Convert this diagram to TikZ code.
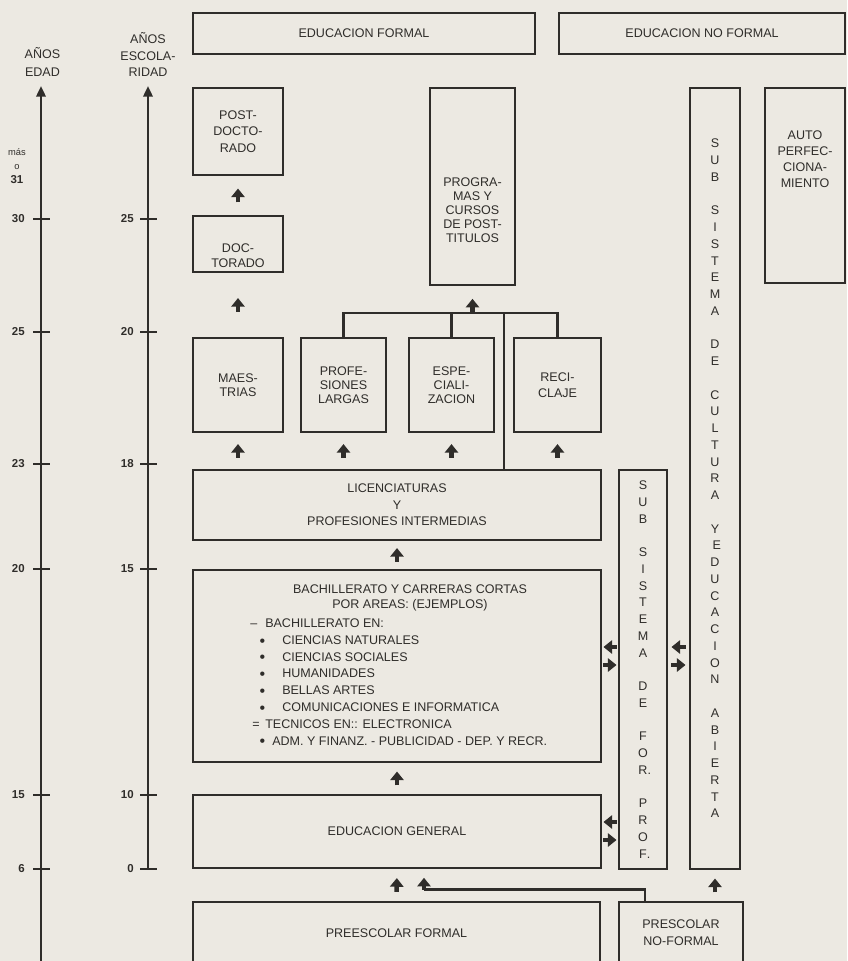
\documentclass[tikz,border=0pt]{standalone}
\usepackage{fontspec}
\setmainfont{Liberation Sans}
\usetikzlibrary{arrows.meta, positioning, calc}
\definecolor{cink}{HTML}{2F2D2A}
\definecolor{cpaper}{HTML}{ECE9E2}
\newcommand{\labfont}{\fontsize{9.4pt}{12pt}\selectfont}
\newcommand{\dotmark}{\raisebox{-1.4pt}{\fontsize{12pt}{12pt}\selectfont\textbullet}}
\tikzset{
  box/.style 2 args={draw=cink, line width=1.7pt, inner sep=0pt, align=center,
    minimum width=#1*0.75pt, minimum height=#2*0.75pt},
  txt/.style={inner sep=0pt, align=center},
  lead/.style={font=\fontsize{9.4pt}{#1}\selectfont},
  link/.style={draw=cink, line width=1.6pt},
  lift/.style={draw=cink, line width=3.4pt, -{Triangle[width=10pt, length=6.5pt]},
    shorten <=#1, shorten >=#1},
  axis/.style={draw=cink, line width=1.8pt, -{Triangle[width=7pt, length=8pt]}},
  tick/.style={inner sep=0pt, font=\fontsize{8.6pt}{10pt}\selectfont\bfseries},
}

\begin{document}
\begin{tikzpicture}[x=0.75pt, y=-0.75pt, font=\labfont, text=cink]
  \useasboundingbox (0,0) rectangle (847,961);
  \fill[cpaper] (0,0) rectangle (847,961);
  \clip (0,0) rectangle (847,961);
  % age axis
  \node[txt, lead=13.3pt] (agehead) at (42.5,62) {AÑOS\\EDAD};
  \draw[axis] (41,961) -- (41,86);
  \foreach \y/\t in {219/30, 332/25, 464/23, 569/20, 795/15, 869/6} {
    \draw[link, line width=1.8pt] (33,\y) -- (50,\y);
    \node[tick, anchor=east] (age\t) at (25,\y) {\t};
  }
  \node[tick, align=center, font=\fontsize{8.6pt}{10.5pt}\selectfont\bfseries] (agemax) at (17,166)
    {{\fontsize{7pt}{8pt}\selectfont\mdseries más}\\{\fontsize{7pt}{8pt}\selectfont\mdseries o}\\31};
  % schooling axis
  \node[txt, lead=12.4pt] (schoolhead) at (148,54.5) {AÑOS\\ESCOLA-\\RIDAD};
  \draw[axis] (148,869) -- (148,86);
  \foreach \y/\t in {219/25, 332/20, 464/18, 569/15, 795/10, 869/0} {
    \draw[link, line width=1.8pt] (140,\y) -- (157,\y);
    \node[tick, anchor=east] (school\t) at (134,\y) {\t};
  }
  % headers
  \node[box={342}{41}] (formal) at (364,33.5) {EDUCACION FORMAL};
  \node[box={286}{41}] (noformal) at (702,33.5) {EDUCACION NO FORMAL};
  % formal education
  \node[box={90}{87}, lead=12.5pt] (postdoc) at (238,131.5) {POST-\\DOCTO-\\RADO};
  \node[box={90}{56}] (doct) at (238,244) {};
  \node[txt, lead=11.5pt] (docttext) at (238,255.5) {DOC-\\TORADO};
  \node[box={85}{197}] (prog) at (472.5,186.5) {};
  \node[txt, lead=10.6pt] (progtext) at (472.5,210) {PROGRA-\\MAS Y\\CURSOS\\DE POST-\\TITULOS};
  \node[box={90}{94}, lead=10.5pt] (maes) at (238,385) {MAES-\\TRIAS};
  \node[box={85}{94}, lead=10.5pt] (prolar) at (343.5,385) {PROFE-\\SIONES\\LARGAS};
  \node[box={85}{94}, lead=10.5pt] (espec) at (451.5,385) {ESPE-\\CIALI-\\ZACION};
  \node[box={87}{94}, lead=12pt] (recic) at (557.5,385) {RECI-\\CLAJE};
  \node[box={408}{70}, lead=12.4pt] (licen) at (397,505) {LICENCIATURAS\\Y\\PROFESIONES INTERMEDIAS};
  \node[box={408}{192}] (bach) at (397,666) {};
  \node[txt, lead=11.25pt] (bachhead) at (410,597.5) {BACHILLERATO Y CARRERAS CORTAS\\POR AREAS: (EJEMPLOS)};
  \node[txt, align=left, anchor=north west, lead=12.6pt] (bachlist) at (250,618.5) {%
    \makebox[11.25pt][l]{\textendash}BACHILLERATO EN:\\
    \hspace*{7pt}\makebox[17pt][l]{\dotmark}CIENCIAS NATURALES\\
    \hspace*{7pt}\makebox[17pt][l]{\dotmark}CIENCIAS SOCIALES\\
    \hspace*{7pt}\makebox[17pt][l]{\dotmark}HUMANIDADES\\
    \hspace*{7pt}\makebox[17pt][l]{\dotmark}BELLAS ARTES\\
    \hspace*{7pt}\makebox[17pt][l]{\dotmark}COMUNICACIONES E INFORMATICA\\
    \hspace*{1.5pt}\makebox[9.75pt][l]{=}TECNICOS EN:: ELECTRONICA\\
    \hspace*{7pt}\makebox[9.5pt][l]{\dotmark}ADM. Y FINANZ. - PUBLICIDAD - DEP. Y RECR.};
  \node[box={408}{73}] (gen) at (397,831.5) {EDUCACION GENERAL};
  \node[box={407}{62}] (prefor) at (396.5,933) {PREESCOLAR FORMAL};
  % non formal education
  \node[box={124}{62}, lead=12.5pt] (prenf) at (681,933) {PRESCOLAR\\NO-FORMAL};
  \node[box={48}{399}, lead=12.56pt] (forprof) at (643,669.5)
    {S\\U\\B\\~\\S\\I\\S\\T\\E\\M\\A\\~\\D\\E\\~\\F\\O\\R\rlap{.}\\~\\P\\R\\O\\F\rlap{.}};
  \node[box={50}{781}, lead=12.56pt] (cultura) at (715,478.5)
    {S\\U\\B\\~\\S\\I\\S\\T\\E\\M\\A\\~\\D\\E\\~\\C\\U\\L\\T\\U\\R\\A\\~\\Y\\~%
     E\\D\\U\\C\\A\\C\\I\\O\\N\\~\\A\\B\\I\\E\\R\\T\\A};
  \node[box={80}{195}] (auto) at (805,185.5) {};
  \node[txt, lead=12pt] (autotext) at (805,159) {AUTO\\PERFEC-\\CIONA-\\MIENTO};
  % upward steps
  \draw[lift=9.3pt] (doct) -- (postdoc);
  \draw[lift=18.7pt] (maes.north) -- (doct.south);
  \foreach \n in {maes, prolar, espec, recic}
    \draw[lift=8.2pt] (licen.north -| \n.south) -- (\n.south);
  \draw[lift=5.2pt] (bach.north) -- (licen.south);
  \draw[lift=6.3pt] (gen.north) -- (bach.south);
  \draw[lift=6.7pt] (prefor.north) -- (gen.south);
  \draw[lift=6.3pt] (prenf.north -| cultura.south) -- (cultura.south);
  % fork into post-degree programmes
  \coordinate (fork) at (prog.south |- 0,313);
  \coordinate (drop) at (504,313);
  \draw[link] (prolar.north) |- (fork) -| (recic.north);
  \draw[link] (espec.north) -- (espec.north |- fork);
  \draw[link] (licen.north -| drop) -- (drop);
  \draw[lift=0pt, shorten >=9.5pt] (fork) -- (prog.south);
  % non formal preschool into general education
  \coordinate (elbow) at (645,889.5);
  \coordinate (tap) at (424,889.5);
  \draw[link] (prenf.north -| elbow) -- (elbow) -- (tap);
  \draw[lift=0pt, shorten >=6.5pt] (tap) -- (gen.south -| tap);
  % side exchanges
  \foreach \r/\y in {bach/647, gen/822} {
    \draw[lift=1pt] (forprof.west |- 0,\y) -- (\r.east |- 0,\y);
    \draw[lift=1pt] (\r.east |- 0,\y+18) -- (forprof.west |- 0,\y+18);
  }
  \draw[lift=2.5pt] (cultura.west |- 0,647) -- (forprof.east |- 0,647);
  \draw[lift=2.5pt] (forprof.east |- 0,665) -- (cultura.west |- 0,665);
\end{tikzpicture}
\end{document}
